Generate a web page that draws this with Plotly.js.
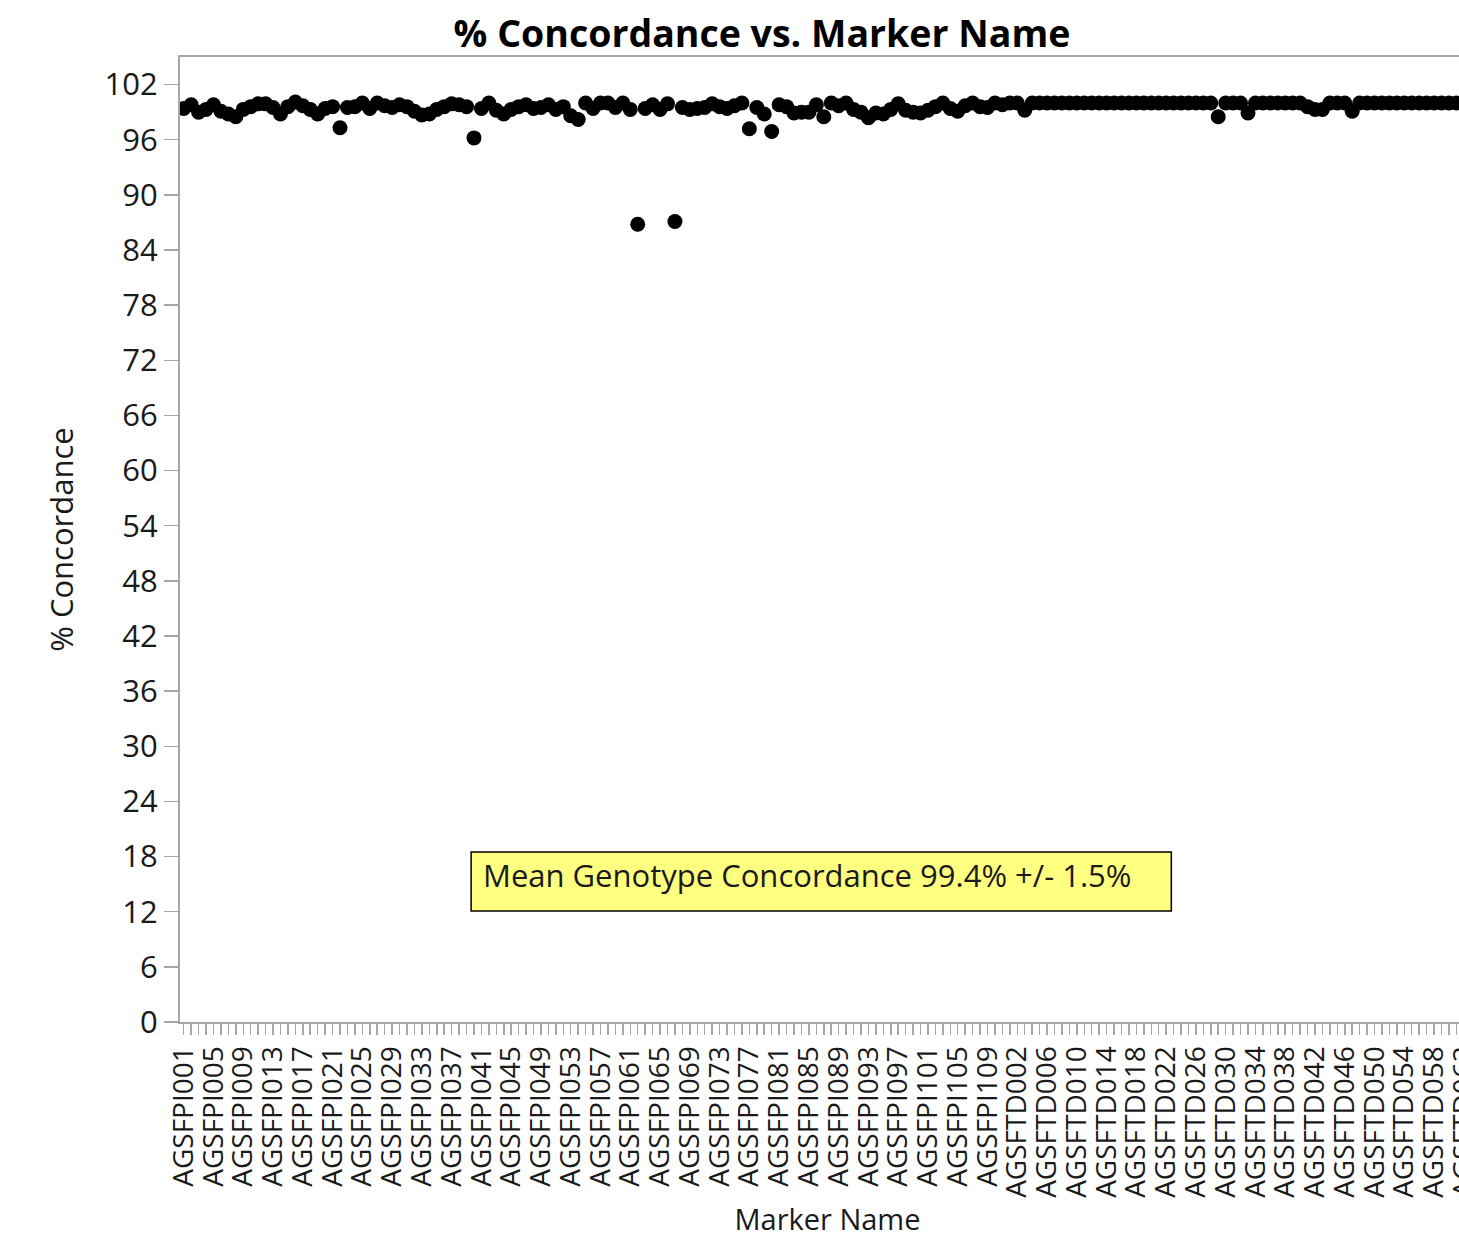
<!DOCTYPE html>
<html>
<head>
<meta charset="utf-8">
<script src="https://cdn.plot.ly/plotly-3.0.1.min.js"></script>
<style>
  html, body { margin: 0; padding: 0; overflow: hidden; background: #fff; }
  #chart { width: 1500px; height: 1238px; }
</style>
</head>
<body>
<div id="chart"></div>
<script>
// Marker name groups
const piPrefix = "AGSFPI";
const piCount = 111;
const tdPrefix = "AGSFTD";
const tdCount = 63;

// % Concordance for AGSFPI001 ... AGSFPI111
const piConcordance = [
  99.4, 99.8, 99.0, 99.3, 99.8, 99.1, 98.8, 98.5, 99.3, 99.6,
  99.9, 99.9, 99.5, 98.8, 99.6, 100.1, 99.7, 99.3, 98.8, 99.4,
  99.6, 97.3, 99.5, 99.6, 100.0, 99.4, 100.0, 99.7, 99.5, 99.8,
  99.6, 99.1, 98.7, 98.8, 99.3, 99.6, 99.9, 99.8, 99.6, 96.2,
  99.4, 100.0, 99.2, 98.8, 99.3, 99.6, 99.8, 99.4, 99.5, 99.8,
  99.3, 99.6, 98.6, 98.2, 100.0, 99.4, 100.0, 100.0, 99.5, 100.0,
  99.3, 86.8, 99.4, 99.8, 99.3, 99.9, 87.1, 99.5, 99.3, 99.4,
  99.5, 99.9, 99.6, 99.4, 99.7, 100.0, 97.2, 99.5, 98.8, 96.9,
  99.8, 99.6, 98.9, 99.0, 99.0, 99.8, 98.5, 100.0, 99.7, 100.0,
  99.3, 99.0, 98.4, 98.9, 98.8, 99.3, 99.9, 99.2, 99.0, 98.9,
  99.2, 99.6, 100.0, 99.4, 99.1, 99.7, 100.0, 99.6, 99.5, 100.0,
  99.8
];

// % Concordance for AGSFTD001 ... AGSFTD063
const tdConcordance = [
  100.0, 100.0, 99.2, 100.0, 100.0, 100.0, 100.0, 100.0, 100.0, 100.0,
  100.0, 100.0, 100.0, 100.0, 100.0, 100.0, 100.0, 100.0, 100.0, 100.0,
  100.0, 100.0, 100.0, 100.0, 100.0, 100.0, 100.0, 100.0, 98.5, 100.0,
  100.0, 100.0, 98.9, 100.0, 100.0, 100.0, 100.0, 100.0, 100.0, 100.0,
  99.6, 99.3, 99.3, 100.0, 100.0, 100.0, 99.1, 100.0, 100.0, 100.0,
  100.0, 100.0, 100.0, 100.0, 100.0, 100.0, 100.0, 100.0, 100.0, 100.0,
  100.0, 100.0, 100.0
];

const yTickValues = [0, 6, 12, 18, 24, 30, 36, 42, 48, 54, 60, 66, 72, 78, 84, 90, 96, 102];
const labelEvery = 4;
const annotationText = "Mean Genotype Concordance 99.4% +/- 1.5%";

function pad3(n) { return String(n).padStart(3, "0"); }
const markerNames = [];
for (let i = 1; i <= piCount; i++) markerNames.push(piPrefix + pad3(i));
for (let i = 1; i <= tdCount; i++) markerNames.push(tdPrefix + pad3(i));
const concordance = piConcordance.concat(tdConcordance);
const tickText = markerNames.map((n, i) => (i % labelEvery === 0 ? n : ""));

const FONT = "Open Sans, Noto Sans, sans-serif";

const trace = {
  type: "scatter",
  mode: "markers",
  x: markerNames,
  y: concordance,
  marker: { color: "#000000", size: 15, line: { width: 0 } },
  hoverinfo: "x+y"
};

const layout = {
  width: 1500,
  height: 1238,
  margin: { l: 180, r: 25, t: 57, b: 216 },
  paper_bgcolor: "#ffffff",
  plot_bgcolor: "#ffffff",
  showlegend: false,
  font: { family: FONT, color: "#1a1a1a" },
  title: {
    text: "<b>% Concordance vs. Marker Name</b>",
    font: { family: FONT, size: 37.5, color: "#000000" },
    x: 0.508, xref: "container", xanchor: "center",
    y: 0.973, yref: "container", yanchor: "middle"
  },
  xaxis: {
    type: "category",
    categoryorder: "array",
    categoryarray: markerNames,
    range: [-0.5, markerNames.length - 0.5],
    tickmode: "array",
    tickvals: markerNames,
    ticktext: tickText,
    tickangle: -90,
    tickfont: { family: FONT, size: 28, color: "#1a1a1a" },
    ticks: "outside",
    ticklen: 11,
    tickwidth: 1.5,
    tickcolor: "#a6a6a6",
    showline: true,
    linecolor: "#a6a6a6",
    linewidth: 2,
    mirror: true,
    showgrid: false,
    zeroline: false,
    automargin: false,
    title: {
      text: "Marker Name",
      font: { family: FONT, size: 29, color: "#1a1a1a" },
      standoff: 31
    }
  },
  yaxis: {
    range: [0, 105],
    tickmode: "array",
    tickvals: yTickValues,
    tickfont: { family: FONT, size: 31, color: "#1a1a1a" },
    ticks: "outside",
    ticklen: 14,
    tickwidth: 1.5,
    tickcolor: "#a6a6a6",
    showline: true,
    linecolor: "#a6a6a6",
    linewidth: 2,
    showgrid: false,
    zeroline: false,
    automargin: false,
    title: {
      text: "% Concordance",
      font: { family: FONT, size: 31, color: "#1a1a1a" },
      standoff: 22
    }
  },
  shapes: [{
    type: "rect",
    xref: "paper", yref: "paper",
    x0: 0.2248, x1: 0.7655,
    y0: 0.115, y1: 0.1762,
    fillcolor: "#ffff80",
    line: { color: "#000000", width: 1.5 },
    layer: "above"
  }],
  annotations: [{
    text: annotationText,
    xref: "paper", yref: "paper",
    x: 0.2325, y: 0.1523,
    xanchor: "left", yanchor: "middle",
    align: "left",
    showarrow: false,
    font: { family: FONT, size: 31, color: "#1a1a1a" }
  }]
};

Plotly.newPlot("chart", [trace], layout, { displayModeBar: false, staticPlot: true });
</script>
</body>
</html>
